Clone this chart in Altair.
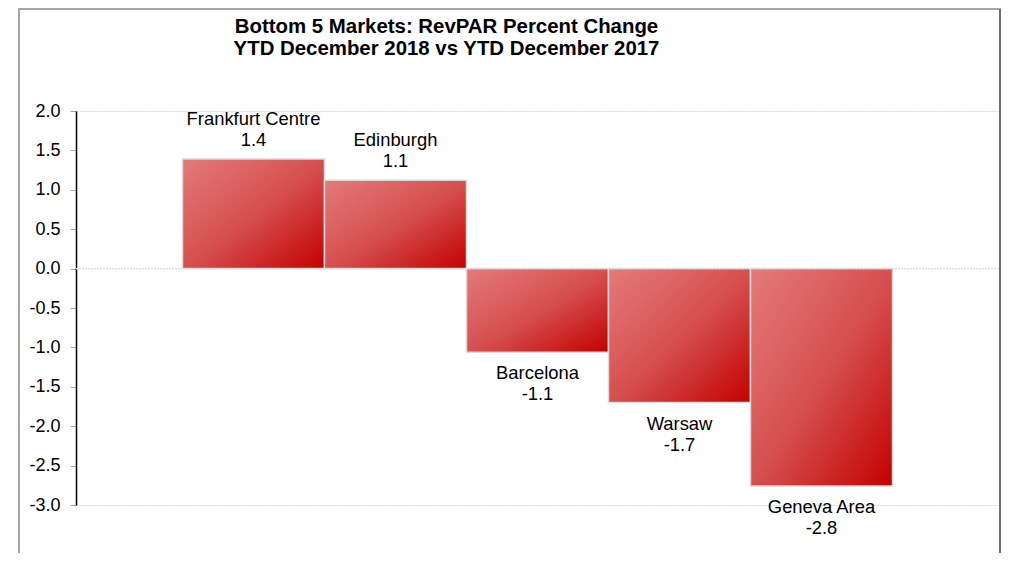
import altair as alt
import pandas as pd

markets = ["Frankfurt Centre", "Edinburgh", "Barcelona", "Warsaw", "Geneva Area"]
revpar_change = [1.39, 1.12, -1.06, -1.70, -2.76]
y_ticks = [2.0, 1.5, 1.0, 0.5, 0.0, -0.5, -1.0, -1.5, -2.0, -2.5, -3.0]
title_lines = ["Bottom 5 Markets: RevPAR Percent Change",
               "YTD December 2018 vs YTD December 2017"]

df = pd.DataFrame({"market": markets, "change": revpar_change})

FONT = "Liberation Sans"
W, H = 923, 394

x = alt.X("market:N", sort=markets, axis=None,
          scale=alt.Scale(paddingInner=0, paddingOuter=0.75))
y_scale = alt.Scale(domain=[-3, 2], nice=False, zero=True)
y_axis = alt.Axis(values=y_ticks, grid=False, labelOverlap=False, tickCount=11,
                  labelExpr="replace(format(datum.value, '.1f'), '\u2212', '-')",
                  labelFont=FONT, labelFontSize=18, labelColor="#000000",
                  labelPadding=10, tickSize=6, tickColor="#A6A6A6",
                  domainColor="#000000", domainWidth=1.5)
y = alt.Y("change:Q", title=None, scale=y_scale, axis=y_axis)

base = alt.Chart(df).transform_calculate(
    label="replace(format(datum.change, '.1f'), '\u2212', '-')")

frame = base.mark_rect(fill=None, stroke="#A6A6A6", strokeWidth=1.5).encode(
    x=alt.value(-57), x2=alt.value(924), y=alt.value(-102), y2=alt.value(470))
frame_right = base.mark_rule(stroke="#707070", strokeWidth=2).encode(
    x=alt.value(924), y=alt.value(-102), y2=alt.value(470))

zero_rule = base.mark_rule(stroke="#DDDDDD", strokeDash=[2, 1], strokeWidth=1).encode(
    x=alt.value(0), x2=alt.value(W),
    y=alt.Y(datum=0, type="quantitative", title=None, scale=y_scale, axis=y_axis))

grad = alt.Gradient(
    gradient="linear",
    stops=[alt.GradientStop(color="#E47A7A", offset=0),
           alt.GradientStop(color="#D65050", offset=0.5),
           alt.GradientStop(color="#C40000", offset=1)],
    x1=0, y1=0, x2=1, y2=1)

bars = base.mark_bar(color=grad, stroke="#D9D9D9", strokeWidth=1.5).encode(
    x=x, y=y, y2=alt.datum(0))

pos = base.transform_filter("datum.change >= 0")
neg = base.transform_filter("datum.change < 0")
tstyle = dict(font=FONT, fontSize=18.4, color="#000000", baseline="middle", align="center")

pos_name = pos.mark_text(dy=-40, **tstyle).encode(x=x, y=y, text="market:N")
pos_val = pos.mark_text(dy=-19, **tstyle).encode(x=x, y=y, text="label:N")
neg_name = neg.mark_text(dy=21, **tstyle).encode(x=x, y=y, text="market:N")
neg_val = neg.mark_text(dy=42, **tstyle).encode(x=x, y=y, text="label:N")

chart = alt.layer(bars, frame, frame_right, zero_rule, pos_name, pos_val, neg_name, neg_val).properties(
    width=W, height=H,
    title=alt.TitleParams(text=title_lines, font=FONT, fontSize=20.4, fontWeight="bold",
                          color="#000000", anchor="middle", dx=-91, offset=-51, lineHeight=22),
    autosize="none",
    padding={"left": 68, "top": 103, "right": 2, "bottom": 48},
).configure_view(
    stroke="#DDDDDD", strokeDash=[2, 1], strokeWidth=1
).configure_axis(labelOverlap=False)

chart.save("out.html", embed_options={"renderer": "svg", "actions": False})
